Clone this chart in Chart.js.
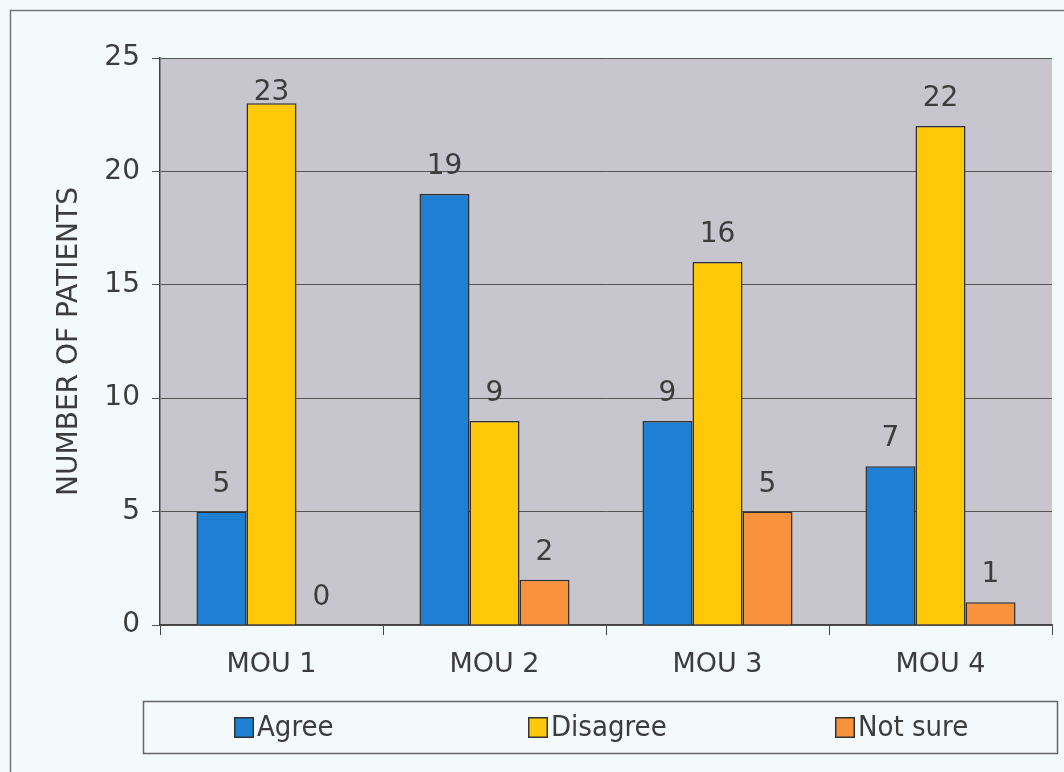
<!DOCTYPE html>
<html>
<head>
<meta charset="utf-8">
<script src="https://cdn.jsdelivr.net/npm/chart.js@4.4.1/dist/chart.umd.min.js"></script>
<style>
  html, body { margin: 0; padding: 0; background: #f4f9fb; }
  #wrap { width: 1064px; height: 772px; }
</style>
</head>
<body>
<div id="wrap"><canvas id="myChart" width="1064" height="772"></canvas></div>
<script>
const categories = ['MOU 1', 'MOU 2', 'MOU 3', 'MOU 4'];
const agree = [5, 19, 9, 7];
const disagree = [23, 9, 16, 22];
const notSure = [0, 2, 5, 1];
const yTicks = [0, 5, 10, 15, 20, 25];

const FONT = '"DejaVu Sans", sans-serif';
const LEGEND_FONT = '"DejaVu Sans Condensed", "Liberation Sans Narrow", "DejaVu Sans", sans-serif';
const TEXT = '#3c3c3c';

// fondo del marco y del area del grafico
const backgroundPlugin = {
    id: 'bg',
    beforeDraw(chart) {
        const { ctx, chartArea } = chart;
        ctx.save();
        ctx.fillStyle = '#f4f9fb';
        ctx.fillRect(0, 0, chart.width, chart.height);
        ctx.strokeStyle = '#777';
        ctx.lineWidth = 1.5;
        ctx.strokeRect(10.5, 10.5, chart.width + 20, chart.height + 20);
        ctx.fillStyle = '#c7c5cd';
        ctx.fillRect(chartArea.left, chartArea.top, chartArea.right - chartArea.left, chartArea.bottom - chartArea.top);
        ctx.restore();
    }
};

// valores encima de las barras
const labelsPlugin = {
    id: 'valueLabels',
    afterDatasetsDraw(chart) {
        const { ctx, chartArea } = chart;
        ctx.save();
        ctx.font = '28px ' + FONT;
        ctx.fillStyle = TEXT;
        ctx.textAlign = 'center';
        ctx.textBaseline = 'alphabetic';
        chart.data.datasets.forEach((ds, i) => {
            chart.getDatasetMeta(i).data.forEach((bar, j) => {
                const y = Math.max(bar.y - 20, chartArea.top + 42);
                ctx.fillText(String(ds.data[j]), bar.x, y);
            });
        });
        ctx.restore();
    }
};

// leyenda con recuadro abajo
const legendBoxPlugin = {
    id: 'legendBox',
    afterDraw(chart) {
        const { ctx } = chart;
        const left = 143.5, top = 701.5, width = 914, height = 52;
        ctx.save();
        ctx.strokeStyle = '#666';
        ctx.lineWidth = 1.5;
        ctx.strokeRect(left, top, width, height);
        const starts = [234, 528, 835];
        ctx.font = '29px ' + LEGEND_FONT;
        ctx.textBaseline = 'middle';
        ctx.textAlign = 'left';
        chart.data.datasets.forEach((ds, i) => {
            const x = starts[i];
            const cy = 727;
            ctx.fillStyle = ds.backgroundColor;
            ctx.fillRect(x, cy - 10, 20, 21);
            ctx.strokeStyle = '#333';
            ctx.lineWidth = 1.5;
            ctx.strokeRect(x + 0.75, cy - 9.25, 18.5, 19.5);
            ctx.fillStyle = TEXT;
            ctx.fillText(ds.label, x + 23, cy + 1);
        });
        ctx.restore();
    }
};

const ctx = document.getElementById('myChart').getContext('2d');
const chart = new Chart(ctx, {
    type: 'bar',
    data: {
        labels: categories,
        datasets: [
            { label: 'Agree', data: agree, backgroundColor: '#1d80d3' },
            { label: 'Disagree', data: disagree, backgroundColor: '#ffc90a' },
            { label: 'Not sure', data: notSure, backgroundColor: '#f8923c' }
        ]
    },
    options: {
        responsive: false,
        animation: false,
        devicePixelRatio: 1,
        layout: { padding: { left: 40, top: 58, right: 12, bottom: 100 } },
        datasets: {
            bar: {
                categoryPercentage: 0.673,
                barPercentage: 1,
                borderColor: '#2e2e2e',
                borderWidth: 1.5,
                borderSkipped: 'bottom'
            }
        },
        plugins: {
            legend: { display: false },
            tooltip: { enabled: false }
        },
        scales: {
            x: {
                afterFit(scale) { scale.height = 47; },
                grid: {
                    offset: true,
                    drawOnChartArea: false,
                    drawTicks: true,
                    tickLength: 10,
                    color: '#444'
                },
                border: { color: '#444', width: 1.5 },
                ticks: { color: TEXT, font: { family: FONT, size: 27 }, padding: 14 }
            },
            y: {
                min: 0,
                max: 25,
                afterFit(scale) { scale.width = 120; },
                afterBuildTicks(scale) { scale.ticks = yTicks.map(v => ({ value: v })); },
                grid: {
                    color: '#555',
                    lineWidth: 1,
                    tickLength: 8
                },
                border: { color: '#444', width: 1.5 },
                ticks: { color: TEXT, font: { family: FONT, size: 28 }, padding: 12 },
                title: {
                    display: true,
                    text: 'NUMBER OF PATIENTS',
                    color: TEXT,
                    font: { family: FONT, size: 28 },
                    padding: { top: 13, bottom: 0 }
                }
            }
        }
    },
    plugins: [backgroundPlugin, labelsPlugin, legendBoxPlugin]
});
</script>
</body>
</html>
